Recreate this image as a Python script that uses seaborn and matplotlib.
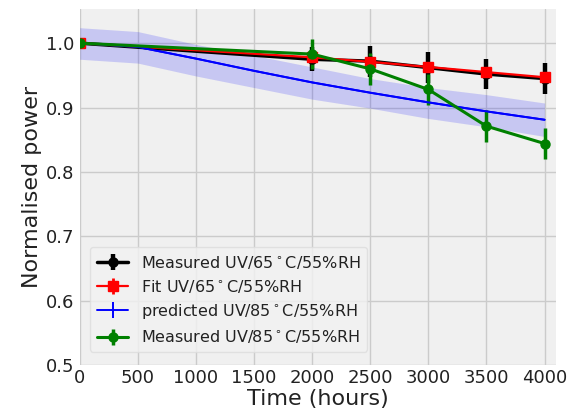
import numpy as np
import matplotlib
matplotlib.use("Agg")
import matplotlib.pyplot as plt
import seaborn as sns

# Measured power at 65 C / 55 %RH
hours = [0, 2000, 2500, 3000, 3500, 4000]
meas65 = [1.0, 0.975, 0.972, 0.962, 0.952, 0.945]
meas65_err = [0.0, 0.019, 0.024, 0.024, 0.024, 0.024]

# Fitted degradation at 65 C / 55 %RH
fit65 = [1.0, 0.978, 0.971, 0.963, 0.955, 0.947]

# Predicted degradation at 85 C / 55 %RH with uncertainty band
pred_hours = [0, 500, 1000, 1500, 2000, 2500, 3000, 3500, 4000]
pred85 = [1.0, 0.994, 0.976, 0.957, 0.939, 0.923, 0.908, 0.894, 0.881]
pred85_hi = [1.024, 1.018, 0.998, 0.981, 0.963, 0.945, 0.931, 0.920, 0.907]
pred85_lo = [0.975, 0.969, 0.949, 0.931, 0.913, 0.899, 0.883, 0.870, 0.855]

# Measured power at 85 C / 55 %RH
meas85 = [1.0, 0.983, 0.960, 0.928, 0.871, 0.844]
meas85_err = [0.0, 0.023, 0.025, 0.024, 0.025, 0.024]

xticks = [0, 500, 1000, 1500, 2000, 2500, 3000, 3500, 4000]
yticks = [0.5, 0.6, 0.7, 0.8, 0.9, 1.0]

sns.set_theme(style="whitegrid", rc={
    "axes.facecolor": "#f0f0f0",
    "figure.facecolor": "white",
    "grid.color": "#cbcbcb",
    "grid.linewidth": 1.0,
    "axes.edgecolor": "#f0f0f0",
    "axes.linewidth": 0,
    "text.color": "#222222",
    "axes.labelcolor": "#222222",
    "xtick.color": "#222222",
    "ytick.color": "#222222",
})
plt.rcParams["font.family"] = ["DejaVu Sans"]

fig = plt.figure(figsize=(5.74, 4.11), dpi=100)
ax = fig.add_axes([0.139, 0.112, 0.830, 0.866])

ax.fill_between(pred_hours, pred85_lo, pred85_hi, color="blue", alpha=0.17, lw=0)

h1 = ax.errorbar(hours, meas65, yerr=meas65_err, color="black", marker="o",
                 ms=6.5, lw=2.5, elinewidth=3.2, capsize=0,
                 label=r"Measured UV/65$^\circ$C/55%RH")
h2 = ax.errorbar(hours, fit65, yerr=np.zeros(len(hours)), color="red", marker="s",
                 ms=6.5, lw=1.6, elinewidth=2, capsize=0,
                 label=r"Fit UV/65$^\circ$C/55%RH")
sns.lineplot(x=pred_hours, y=pred85, color="blue", lw=1.4, ax=ax, legend=False)
h3 = ax.errorbar(pred_hours, pred85, yerr=np.zeros(len(pred_hours)), color="blue",
                 lw=1.4, elinewidth=1.4, capsize=0,
                 label=r"predicted UV/85$^\circ$C/55%RH")
h4 = ax.errorbar(hours, meas85, yerr=meas85_err, color="green", marker="o",
                 ms=6.5, lw=2.2, elinewidth=2.5, capsize=0,
                 label=r"Measured UV/85$^\circ$C/55%RH")

ax.set_xlim(0, 4100)
ax.set_ylim(0.5, 1.053)
ax.set_xticks(xticks)
ax.set_yticks(yticks)
ax.tick_params(axis="x", labelsize=13, length=0, pad=3)
ax.tick_params(axis="y", labelsize=13, length=0, pad=4)
ax.set_xlabel("Time (hours)", fontsize=16, labelpad=1)
ax.set_ylabel("Normalised power", fontsize=16, labelpad=3)
for s in ax.spines.values():
    s.set_visible(False)

leg = ax.legend(handles=[h1, h2, h3, h4], loc="lower left",
                bbox_to_anchor=(0.005, 0.015), fontsize=11.5,
                frameon=True, facecolor="#f2f2f2", edgecolor="#dddddd",
                handlelength=2.0, labelspacing=0.45)

fig.savefig("out.png", dpi=100)
